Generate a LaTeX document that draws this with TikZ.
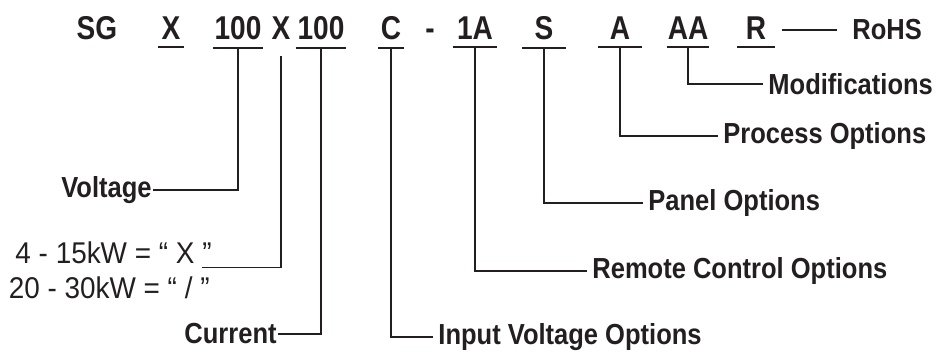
\documentclass[tikz,border=0pt]{standalone}
\usepackage{fontspec}
\setmainfont{Liberation Sans}
\newfontfamily\estrecha{Liberation Sans}[FakeStretch=0.85]
\newfontfamily\etiqfont{Liberation Sans}[FakeStretch=0.88]
\newfontfamily\notafont{Liberation Sans}[FakeStretch=0.93]
\usepackage{tikz}
\usetikzlibrary{positioning}
\definecolor{tinta}{HTML}{231F20}

\begin{document}
\begin{tikzpicture}[x=0.5pt,y=-0.5pt,
      codigo/.style={font=\estrecha\bfseries\fontsize{16.5}{18}\selectfont,
                     text=tinta,anchor=base,inner xsep=0pt,inner ysep=3.5pt},
      subr/.style={codigo,minimum width=#1},
      etiq/.style={font=\etiqfont\bfseries\fontsize{14.5}{16}\selectfont,
                   text=tinta,inner xsep=2.5pt,inner ysep=1pt},
      nota/.style={font=\notafont\fontsize{15}{16}\selectfont,text=tinta,
                   anchor=base east,inner xsep=0pt,inner ysep=2pt},
      linea/.style={draw=tinta,line width=0.75pt},
      raya/.style={draw=tinta,line width=1pt}]
    \useasboundingbox (0,0) rectangle (940,352);
    % codigo de pedido
    \node[codigo] (sg) at (97,40) {SG};
    \node[subr=12.5pt] (x1) at (171,40) {X};
    \node[subr=24.5pt] (va) at (238,40) {100};
    \node[codigo,inner ysep=8pt] (xm) at (281,40) {X};
    \node[subr=25pt] (cu) at (321,40) {100};
    \node[subr=12.5pt] (iv) at (391,40) {C};
    \node[codigo] (gu) at (430,40) {-};
    \node[subr=22pt] (rc) at (475,40) {1A};
    \node[subr=21.5pt] (pn) at (544,40) {S};
    \node[subr=21.5pt] (pr) at (620,40) {A};
    \node[subr=21pt] (md) at (688,40) {AA};
    \node[subr=18.5pt] (rr) at (756,40) {R};
    \node[etiq,anchor=base west,inner xsep=0pt] (rohs) at (852,40) {RoHS};
    \foreach \n in {x1,va,cu,iv,rc,pn,pr,md,rr}
      \draw[raya] (\n.south west) -- (\n.south east);
    % etiquetas
    \node[etiq,anchor=east,inner xsep=0.5pt] (volt) at (153,190) {Voltage};
    \node[nota] (kw1) at (212,263) {4 - 15kW = “ X ”};
    \node[nota] (kw2) at (210,298) {20 - 30kW = “ / ”};
    \node[etiq,anchor=east,inner xsep=0.5pt] (curr) at (278,334) {Current};
    \node[etiq,anchor=west] (inv) at (433,337) {Input Voltage Options};
    \node[etiq,anchor=west] (rem) at (587,271) {Remote Control Options};
    \node[etiq,anchor=west] (pan) at (643,203) {Panel Options};
    \node[etiq,anchor=west] (pro) at (718,136) {Process Options};
    \node[etiq,anchor=west] (mod) at (763,84) {Modifications};
    % conectores
    \draw[linea] (va.south) |- (volt.east);
    \draw[linea] (xm.south) |- ([xshift=-5pt]kw1.south east);
    \draw[linea] (cu.south) |- (curr.east);
    \foreach \a/\b in {iv/inv,rc/rem,pn/pan,pr/pro,md/mod}
      \draw[linea] (\a.south) |- (\b.west);
    \draw[linea] ([xshift=3.5pt]rr.east |- rohs.west) -- ([xshift=-7.5pt]rohs.west);
\end{tikzpicture}
\end{document}
